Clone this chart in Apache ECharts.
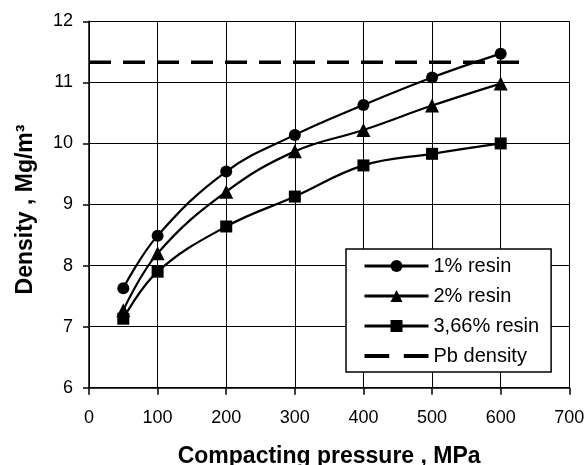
<!DOCTYPE html>
<html>
<head>
<meta charset="utf-8">
<script src="https://cdn.jsdelivr.net/npm/echarts@6/dist/echarts.min.js"></script>
<style>html,body{margin:0;padding:0;background:#fff;}#c{width:586px;height:465px;}</style>
</head>
<body>
<div id="c"></div>
<script>
var pressure = [50, 100, 200, 300, 400, 500, 600];
var resin1 = [7.63, 8.49, 9.54, 10.14, 10.63, 11.08, 11.47];
var resin2 = [7.27, 8.2, 9.21, 9.87, 10.22, 10.62, 10.98];
var resin366 = [7.13, 7.9, 8.64, 9.13, 9.64, 9.83, 10.0];
var pbX = [0, 636];
var pbDensity = 11.33;
var seriesNames = ['1% resin', '2% resin', '3,66% resin', 'Pb density'];

function pairs(xs, ys) { return xs.map(function (x, i) { return [x, ys[i]]; }); }

var chart = echarts.init(document.getElementById('c'), null, {renderer: 'canvas'});
var font = 'Liberation Sans, Arial, sans-serif';
function lineSeries(name, data, symbol, size) {
  return {
    name: name, type: 'line', data: pairs(pressure, data),
    smooth: 0.4, symbol: symbol, symbolSize: size, showSymbol: true,
    lineStyle: {color: '#000', width: 2.2},
    itemStyle: {color: '#000'},
    z: 3
  };
}
chart.setOption({
  animation: false,
  backgroundColor: '#fff',
  textStyle: {fontFamily: font},
  grid: {left: 89, right: 16.7, top: 21.3, bottom: 77.3, containLabel: false, outerBoundsMode: 'none'},
  xAxis: {
    type: 'value', min: 0, max: 700, interval: 100,
    name: 'Compacting pressure , MPa', nameLocation: 'middle', nameGap: 57,
    nameTextStyle: {fontFamily: font, fontSize: 23, fontWeight: 'bold', color: '#000'},
    axisLine: {show: true, onZero: false, lineStyle: {color: '#000', width: 1.5}},
    axisTick: {show: true, length: 7, lineStyle: {color: '#000', width: 1.5}},
    axisLabel: {fontFamily: font, fontSize: 18, color: '#000', margin: 21},
    splitLine: {show: true, lineStyle: {color: '#000', width: 1}}
  },
  yAxis: {
    type: 'value', min: 6, max: 12, interval: 1,
    name: 'Density , Mg/m³', nameLocation: 'middle', nameGap: 52,
    nameTextStyle: {fontFamily: font, fontSize: 23, fontWeight: 'bold', color: '#000', padding: [0, 10, 0, 0]},
    axisLine: {show: true, onZero: false, lineStyle: {color: '#000', width: 1.5}},
    axisTick: {show: true, length: 6, lineStyle: {color: '#000', width: 1.5}},
    axisLabel: {fontFamily: font, fontSize: 18, color: '#000', margin: 16},
    splitLine: {show: true, lineStyle: {color: '#000', width: 1}}
  },
  legend: {
    orient: 'vertical', left: 346, top: 249,
    data: [
      {name: seriesNames[0]},
      {name: seriesNames[1]},
      {name: seriesNames[2]},
      {name: seriesNames[3], icon: 'path://M0,0h22v3.6h-22zM35,0h22v3.6h-22z', itemStyle: {color: '#000'}}
    ],
    itemWidth: 64, itemHeight: 15, itemGap: 10,
    padding: [7, 12, 6, 17],
    lineStyle: {width: 3},
    backgroundColor: '#fff', borderColor: '#000', borderWidth: 1.5, borderRadius: 0,
    textStyle: {fontFamily: font, fontSize: 20, color: '#000'}
  },
  series: [
    lineSeries(seriesNames[0], resin1, 'circle', 12),
    lineSeries(seriesNames[1], resin2, 'triangle', 14),
    lineSeries(seriesNames[2], resin366, 'rect', 12),
    {
      name: seriesNames[3], type: 'line',
      data: pbX.map(function (x) { return [x, pbDensity]; }),
      symbol: 'none', showSymbol: false,
      lineStyle: {color: '#000', width: 3.5, type: [22, 12]},
      itemStyle: {color: '#000'},
      z: 2
    }
  ]
});
</script>
</body>
</html>
